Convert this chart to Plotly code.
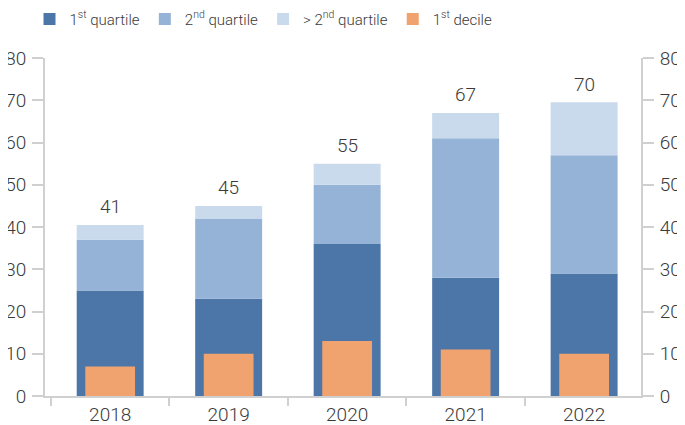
import plotly.graph_objects as go

years = ["2018", "2019", "2020", "2021", "2022"]
q1 = [25, 23, 36, 28, 29]
q2_cum = [37, 42, 50, 61, 57]
total = [40.5, 45, 55, 67, 69.5]
total_labels = ["41", "45", "55", "67", "70"]
decile = [7, 10, 13, 11, 10]

q2_inc = [b - a for a, b in zip(q1, q2_cum)]
rest_inc = [t - b for b, t in zip(q2_cum, total)]

font = dict(family="Roboto, Arial, sans-serif", size=19, color="#3a3a3a", weight=300)
fig = go.Figure()
fig.add_trace(go.Bar(x=years, y=q1, base=[0]*5, name="1<sup>st</sup> quartile",
                     marker=dict(color="#4c76a8", line=dict(width=0)), width=0.565))
fig.add_trace(go.Bar(x=years, y=q2_inc, base=q1, name="2<sup>nd</sup> quartile",
                     marker=dict(color="#94b3d7", line=dict(width=0)), width=0.565))
fig.add_trace(go.Bar(x=years, y=rest_inc, base=q2_cum, name="> 2<sup>nd</sup> quartile",
                     marker=dict(color="#c9daed", line=dict(width=0)), width=0.565))
fig.add_trace(go.Bar(x=years, y=decile, base=[0]*5, name="1<sup>st</sup> decile",
                     marker=dict(color="#f0a36e", line=dict(width=0)), width=0.42))
fig.add_trace(go.Scatter(x=years, y=[None]*5, yaxis="y2", showlegend=False, hoverinfo="skip"))

for i, (t, lab) in enumerate(zip(total, total_labels)):
    fig.add_annotation(x=i, y=t, xref="x", yref="y", text=lab, showarrow=False,
                       yanchor="middle", yshift=18, font=font)

axis_common = dict(range=[0, 80], dtick=10, showgrid=False, zeroline=False,
                   showline=True, linecolor="#d0d0d0", linewidth=2,
                   ticks="outside", ticklen=11, tickcolor="#d0d0d0", tickwidth=2,
                   ticklabelstandoff=2, tickfont=font)
fig.update_layout(
    width=685, height=425,
    margin=dict(l=37, r=52, t=50, b=37, autoexpand=False),
    barmode="overlay",
    plot_bgcolor="white", paper_bgcolor="white",
    font=font,
    xaxis=dict(type="category", range=[-0.55, 4.48], showline=True, linecolor="#d0d0d0",
               linewidth=2, ticks="outside", tickson="boundaries", ticklen=8,
               tickcolor="#d0d0d0", tickwidth=2, tickfont=font, showgrid=False),
    yaxis=dict(**axis_common, side="left"),
    yaxis2=dict(**axis_common, side="right", overlaying="y"),
    legend=dict(orientation="h", xref="paper", yref="paper",
                x=-0.026, xanchor="left", y=1.115, yanchor="middle",
                font=dict(family="Roboto, Arial, sans-serif", size=15, color="#3a3a3a", weight=300),
                itemwidth=30, traceorder="normal", bgcolor="rgba(0,0,0,0)"),
    showlegend=True,
)
fig.write_html("out.html")
